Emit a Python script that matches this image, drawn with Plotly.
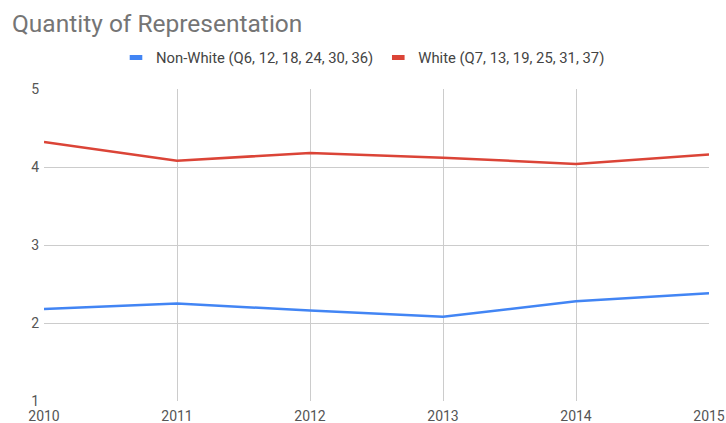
import plotly.graph_objects as go

years = [2010, 2011, 2012, 2013, 2014, 2015]
non_white = [2.18, 2.25, 2.16, 2.08, 2.28, 2.38]
white = [4.32, 4.08, 4.18, 4.12, 4.04, 4.16]
series_names = ["Non-White (Q6, 12, 18, 24, 30, 36)", "White (Q7, 13, 19, 25, 31, 37)"]
series_colors = ["#4285F4", "#DB4437"]
y_ticks = [1, 2, 3, 4, 5]

fig = go.Figure()
for vals, name, col in zip([non_white, white], series_names, series_colors):
    fig.add_trace(go.Scatter(x=years, y=vals, mode="lines", name=name, showlegend=False,
                             legendgroup=name, line=dict(color=col, width=2.5)))
for name, col in zip(series_names, series_colors):
    # legend-only entry to mimic the short bar swatch
    fig.add_trace(go.Scatter(x=[None], y=[None], mode="markers", name=name,
                             legendgroup=name,
                             marker=dict(symbol="line-ew", size=9,
                                         line=dict(color=col, width=5))))

fig.update_layout(
    width=726, height=423,
    margin=dict(l=44, r=17, t=89, b=22, autoexpand=False),
    paper_bgcolor="white", plot_bgcolor="white",
    font=dict(family="Roboto", size=14, color="#444444"),
    title=dict(text="Quantity of Representation", x=12 / 726, xanchor="left", xref="container",
               y=1 - 23 / 423, yanchor="middle", yref="container",
               font=dict(family="Roboto", size=24.5, color="#757575")),
    legend=dict(orientation="h", x=0.5, xanchor="center", xref="container",
                y=1 - 58 / 423, yref="container", yanchor="middle",
                font=dict(family="Roboto", size=14.8, color="#444444"),
                itemwidth=30, tracegroupgap=0),
    showlegend=True,
)
fig.update_xaxes(range=[2010, 2015], tickvals=years, ticktext=[str(y) for y in years],
                 showgrid=True, gridcolor="#cccccc", gridwidth=1, zeroline=False,
                 showline=False, ticks="", ticklabelstandoff=5, automargin=False,
                 tickfont=dict(size=14, color="#555555"))
fig.update_yaxes(range=[1, 5], tickvals=y_ticks, showgrid=True, gridcolor="#cccccc",
                 gridwidth=1, zeroline=False, showline=False, ticks="", automargin=False,
                 ticklabelstandoff=4, tickfont=dict(size=14, color="#555555"))

fig.write_html("out.html", config={"displayModeBar": False},
               post_script="document.body.style.margin='0px';document.body.style.overflow='hidden';")
